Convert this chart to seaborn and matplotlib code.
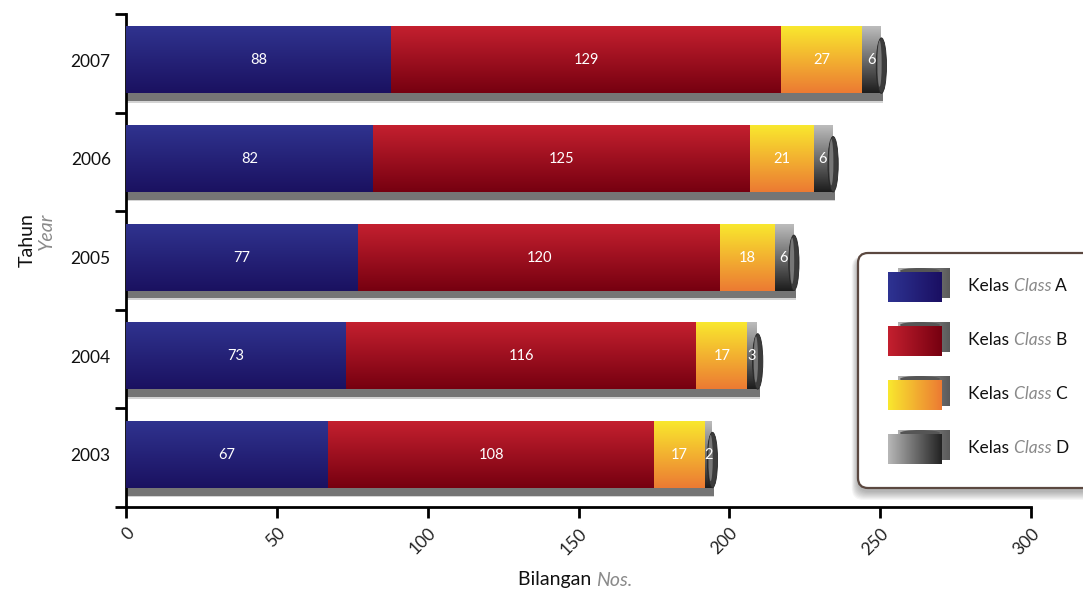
import numpy as np
import pandas as pd
import matplotlib
matplotlib.use("Agg")
import matplotlib.pyplot as plt
import seaborn as sns
from matplotlib.patches import FancyBboxPatch, Ellipse
from matplotlib.colors import LinearSegmentedColormap

# ---- data -------------------------------------------------------------
years = ["2007", "2006", "2005", "2004", "2003"]
class_a = [88, 82, 77, 73, 67]
class_b = [129, 125, 120, 116, 108]
class_c = [27, 21, 18, 17, 17]
class_d = [6, 6, 6, 3, 2]
class_names = ["A", "B", "C", "D"]
x_ticks = [0, 50, 100, 150, 200, 250, 300]

# vertical gradient per class: (top colour, bottom colour)
gradients = {
    "A": ("#30338f", "#1a1160"),
    "B": ("#c4202f", "#760010"),
    "C": ("#f9e82e", "#ec7a33"),
    "D": ("#bdbdbd", "#1c1c1c"),
}

FONT = ["Lato", "DejaVu Sans"]
GREY_TXT = "#8a8a8a"

sns.set_theme(style="white")
plt.rcParams["font.family"] = FONT

W, H = 1083, 595
fig = plt.figure(figsize=(W / 100, H / 100), dpi=100)
ax = fig.add_axes([126 / W, 88 / H, (1031 - 126) / W, (507 - 14) / H])

series = [class_a, class_b, class_c, class_d]
cum = np.cumsum(np.array(series), axis=0)
df = pd.DataFrame({"year": years})
for name, c in zip(class_names, cum):
    df["cum_" + name] = c

# stacked bars: draw cumulative totals from the outermost inwards
bar_patches = {}
for i in reversed(range(len(class_names))):
    name = class_names[i]
    n0 = len(ax.patches)
    sns.barplot(data=df, x="cum_" + name, y="year", order=years, orient="h",
                color=gradients[name][1], saturation=1, width=0.67,
                errorbar=None, ax=ax, zorder=2, linewidth=0)
    bar_patches[name] = ax.patches[n0:]


def vgrad(top, bottom):
    return LinearSegmentedColormap.from_list("g", [top, bottom])


grad_img = np.linspace(0, 1, 256).reshape(-1, 1)

totals = cum[-1]
for i, name in enumerate(class_names):
    cmap = vgrad(*gradients[name])
    for j, p in enumerate(bar_patches[name]):
        y0, h = p.get_y(), p.get_height()
        x1 = p.get_width()
        x0 = cum[i - 1][j] if i > 0 else 0
        ax.imshow(grad_img, cmap=cmap, aspect="auto", origin="upper",
                  extent=(x0, x1, y0 + h, y0), interpolation="bicubic",
                  zorder=3)
        ax.text((x0 + x1) / 2, y0 + h / 2, str(series[i][j]), color="white",
                ha="center", va="center", fontsize=10.5, zorder=6)

# drop shadows under each bar and rolled cylinder caps on the right end
for j, p in enumerate(bar_patches["A"]):
    y0, h = p.get_y(), p.get_height()
    ax.barh(y0 + h + 0.035, totals[j] + 1.0, height=0.09, left=0,
            color="#757575", linewidth=0, zorder=2.5)
    ax.barh(y0 + h + 0.088, totals[j] + 1.0, height=0.016, left=0,
            color="#d4d4d4", linewidth=0, zorder=2.5)
    ax.add_patch(Ellipse((totals[j] + 0.4, y0 + h * 0.58), width=3.4,
                         height=h * 0.84, facecolor="#3c3c3c",
                         edgecolor="#262626", lw=0.6, zorder=4))
    ax.add_patch(Ellipse((totals[j] - 0.2, y0 + h * 0.55), width=1.4,
                         height=h * 0.70, facecolor="#a8a8a8",
                         edgecolor="none", alpha=0.55, zorder=4))

# ---- axes styling -------------------------------------------------------
ax.set_xlim(0, 300)
ax.set_ylim(4.53, -0.47)
sns.despine(ax=ax)
for side in ("left", "bottom"):
    ax.spines[side].set_color("black")
    ax.spines[side].set_linewidth(2)

ax.set_xticks(x_ticks)
ax.set_xticklabels([str(t) for t in x_ticks], rotation=45, ha="right",
                   rotation_mode="anchor", fontsize=12.5, color="#222222")
ax.tick_params(axis="x", direction="out", length=8, width=2, color="black",
               pad=5, bottom=True)

bounds = [k - 0.47 for k in range(len(years) + 1)]
ax.set_yticks(bounds)
ax.set_yticklabels([""] * len(bounds))
ax.tick_params(axis="y", which="major", direction="out", length=8, width=2,
               color="black", left=True)
ax.set_yticks(range(len(years)), minor=True)
ax.set_yticklabels(years, minor=True, fontsize=12.5, color="#111111")
ax.tick_params(axis="y", which="minor", length=0, pad=11)
ax.set_xlabel("")
ax.set_ylabel("")

# ---- overlay in pixel coordinates for titles and legend -----------------
ov = fig.add_axes([0, 0, 1, 1], zorder=10)
ov.set_xlim(0, W)
ov.set_ylim(H, 0)
ov.axis("off")
renderer = fig.canvas.get_renderer()


def run_text(x, y, pieces, size, va="center"):
    """Draw consecutive text pieces with mixed style along a line."""
    for txt, color, style in pieces:
        t = ov.text(x, y, txt, color=color, style=style, fontsize=size,
                    ha="left", va=va)
        x += t.get_window_extent(renderer).width


run_text(518, 580, [("Bilangan ", "#111111", "normal"),
                    ("Nos.", GREY_TXT, "italic")], 14)

ov.text(27, 213, "Tahun", rotation=90, rotation_mode="anchor", ha="right",
        va="center", fontsize=14, color="#111111")
ov.text(46, 213, "Year", rotation=90, rotation_mode="anchor", ha="right",
        va="center", fontsize=14, color=GREY_TXT, style="italic")

# legend box with soft shadow
lx, ly, lw_, lh = 858, 253, 250, 235
for k in range(9, 0, -1):
    ov.add_patch(FancyBboxPatch((lx - k * 0.7, ly + 3), lw_, lh + k * 1.0,
                                boxstyle="round,pad=0,rounding_size=12",
                                facecolor="#000000", alpha=0.035,
                                edgecolor="none", zorder=1))
ov.add_patch(FancyBboxPatch((lx, ly), lw_, lh,
                            boxstyle="round,pad=0,rounding_size=10",
                            facecolor="white", edgecolor="#5b4840",
                            lw=1.6, zorder=2))

row_y = [287, 341, 395, 449]
hgrad = np.linspace(0, 1, 256).reshape(1, -1)
legend_cols = {
    "A": ("#2e3392", "#1a0f62"),
    "B": ("#c4202f", "#760010"),
    "C": ("#f9e82e", "#ec7a33"),
    "D": ("#b8b8b8", "#222222"),
}
for name, yc in zip(class_names, row_y):
    # rolled back sheet
    ov.imshow(hgrad, cmap=vgrad("#b0b0b0", "#5a5a5a"), aspect="auto",
              extent=(898, 950, yc + 11, yc - 19), zorder=3)
    ov.add_patch(Ellipse((920, yc - 16), 40, 6, facecolor="#555555",
                         edgecolor="none", zorder=3))
    # front sheet
    ov.imshow(hgrad, cmap=vgrad(*legend_cols[name]), aspect="auto",
              extent=(888, 942, yc + 15, yc - 15), zorder=4)
    run_text(968, yc - 1, [("Kelas ", "#111111", "normal"),
                           ("Class ", GREY_TXT, "italic"),
                           (name, "#111111", "normal")], 12.5)

ov.set_xlim(0, W)
ov.set_ylim(H, 0)

fig.savefig("out.png", dpi=100)
